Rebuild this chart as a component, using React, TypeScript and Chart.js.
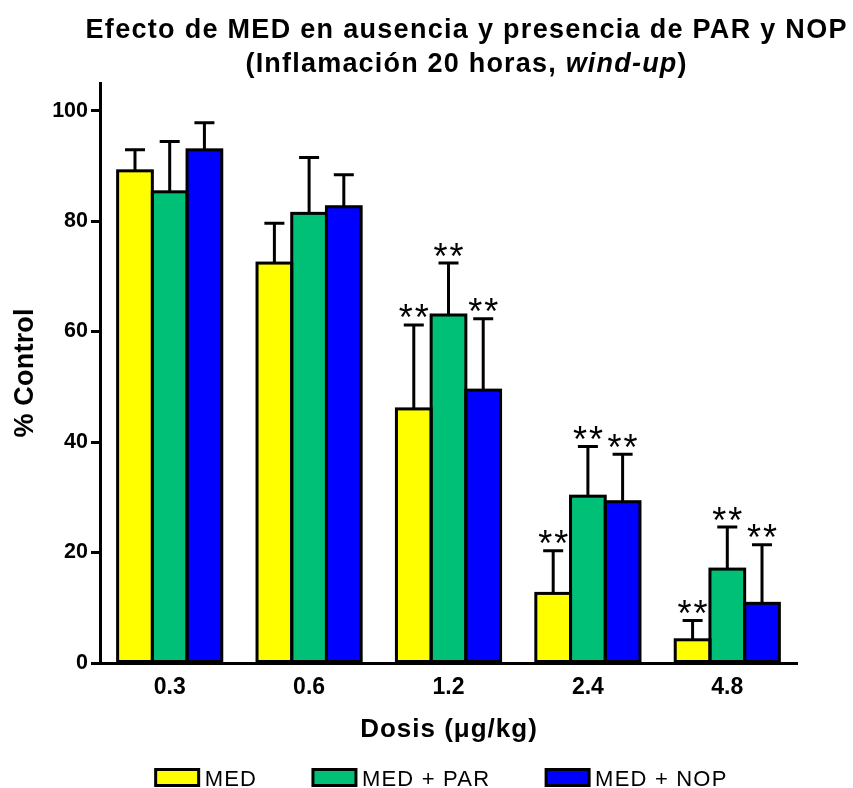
import { useEffect, useRef } from 'react';
import { Chart, registerables } from 'chart.js';

Chart.register(...registerables);

// Dose groups (µg/kg)
const doses = ['0.3', '0.6', '1.2', '2.4', '4.8'];

// Series names
const seriesNames = ['MED', 'MED + PAR', 'MED + NOP'];
const seriesColors = ['#FFFF00', '#00C078', '#0000FF'];

// Mean % of control
const medValues = [89.1, 72.4, 46.0, 12.6, 4.2];
const medParValues = [85.3, 81.4, 63.0, 30.2, 17.0];
const medNopValues = [92.9, 82.6, 49.4, 29.2, 10.8];

// Upper error (SEM)
const medErrors = [3.8, 7.2, 15.2, 7.7, 3.5];
const medParErrors = [9.1, 10.1, 9.4, 9.0, 7.6];
const medNopErrors = [4.9, 5.8, 12.9, 8.6, 10.6];

// Significance marks
const medMarks = ['', '', '**', '**', '**'];
const medParMarks = ['', '', '**', '**', '**'];
const medNopMarks = ['', '', '**', '**', '**'];

// Axis ticks
const yTicks = [0, 20, 40, 60, 80, 100];

const titleLine1 = 'Efecto de MED en ausencia y presencia de PAR y NOP';
const titleLine2 = [
  { text: '(Inflamación 20 horas, ', italic: false },
  { text: 'wind-up', italic: true },
  { text: ')', italic: false },
];
const xTitle = 'Dosis (\u03BCg/kg)';
const yTitle = '% Control';

const FAMILY = '"Liberation Sans", Arial, Helvetica, sans-serif';

const errorSets = [medErrors, medParErrors, medNopErrors];
const markSets = [medMarks, medParMarks, medNopMarks];

function measure(ctx: CanvasRenderingContext2D, text: string, spacing: number) {
  (ctx as any).letterSpacing = spacing + 'px';
  const w = ctx.measureText(text).width - spacing;
  (ctx as any).letterSpacing = '0px';
  return w;
}

function drawSpaced(ctx: CanvasRenderingContext2D, text: string, x: number, y: number, spacing: number) {
  (ctx as any).letterSpacing = spacing + 'px';
  ctx.fillText(text, x, y);
  (ctx as any).letterSpacing = '0px';
}

const decorations = {
  id: 'decorations',
  afterDatasetsDraw(chart: any) {
    const ctx: CanvasRenderingContext2D = chart.ctx;
    const yScale = chart.scales.y;
    ctx.save();
    ctx.strokeStyle = '#000';
    ctx.fillStyle = '#000';
    ctx.lineWidth = 3;
    ctx.lineCap = 'butt';
    chart.data.datasets.forEach((ds: any, di: number) => {
      const meta = chart.getDatasetMeta(di);
      meta.data.forEach((bar: any, i: number) => {
        const { x, y, base, width } = bar.getProps(['x', 'y', 'base', 'width'], true);
        // bar outline
        ctx.strokeRect(x - width / 2, y, width, base - y);
        // upper error bar
        const capY = yScale.getPixelForValue(ds.data[i] + errorSets[di][i]);
        ctx.beginPath();
        ctx.moveTo(x, y);
        ctx.lineTo(x, capY);
        ctx.moveTo(x - 10, capY);
        ctx.lineTo(x + 10, capY);
        ctx.stroke();
        // significance mark
        const mark = markSets[di][i];
        if (mark) {
          ctx.font = `36px ${FAMILY}`;
          ctx.textAlign = 'left';
          ctx.textBaseline = 'alphabetic';
          const w = measure(ctx, mark, 2);
          drawSpaced(ctx, mark, x - w / 2, capY + 5.5, 2);
        }
      });
    });
    ctx.restore();
  },
  afterDraw(chart: any) {
    const ctx: CanvasRenderingContext2D = chart.ctx;
    const area = chart.chartArea;
    ctx.save();
    ctx.fillStyle = '#000';
    ctx.textAlign = 'left';
    ctx.textBaseline = 'alphabetic';

    // Title
    const titleX = 466;
    ctx.font = `bold 27px ${FAMILY}`;
    const w1 = measure(ctx, titleLine1, 1.3);
    drawSpaced(ctx, titleLine1, titleX - w1 / 2, 38, 1.3);

    const parts = titleLine2.map((p) => {
      ctx.font = `${p.italic ? 'italic ' : ''}bold 27px ${FAMILY}`;
      return { ...p, w: measure(ctx, p.text, 1.2) + 1.2 };
    });
    const total = parts.reduce((s, p) => s + p.w, 0) - 1.2;
    let px = titleX - total / 2;
    parts.forEach((p) => {
      ctx.font = `${p.italic ? 'italic ' : ''}bold 27px ${FAMILY}`;
      drawSpaced(ctx, p.text, px, 72, 1.2);
      px += p.w;
    });

    // X axis title
    ctx.font = `bold 26px ${FAMILY}`;
    const wx = measure(ctx, xTitle, 1);
    drawSpaced(ctx, xTitle, (area.left + area.right) / 2 - wx / 2, 737, 1);

    // Y axis title
    ctx.font = `bold 27px ${FAMILY}`;
    const wy = measure(ctx, yTitle, 0.2);
    ctx.save();
    ctx.translate(33, (area.top + area.bottom) / 2);
    ctx.rotate(-Math.PI / 2);
    drawSpaced(ctx, yTitle, -wy / 2, 0, 0.2);
    ctx.restore();

    // Legend
    ctx.font = `22px ${FAMILY}`;
    const boxW = 43;
    const boxH = 16;
    const gapText = 6;
    const gapItem = 57;
    const items = chart.data.datasets.map((ds: any) => ({
      label: ds.label,
      color: ds.backgroundColor,
      w: measure(ctx, ds.label, 1.2),
    }));
    const legendW =
      items.reduce((s: number, it: any) => s + boxW + gapText + it.w, 0) + gapItem * (items.length - 1);
    let lx = 441 - legendW / 2;
    const boxTop = 769.5;
    items.forEach((it: any) => {
      ctx.fillStyle = it.color;
      ctx.fillRect(lx, boxTop, boxW, boxH);
      ctx.lineWidth = 3;
      ctx.strokeStyle = '#000';
      ctx.strokeRect(lx, boxTop, boxW, boxH);
      ctx.fillStyle = '#000';
      drawSpaced(ctx, it.label, lx + boxW + gapText, boxTop + boxH, 1.2);
      lx += boxW + gapText + it.w + gapItem;
    });
    ctx.restore();
  },
};

export default function App() {
  const canvasRef = useRef<HTMLCanvasElement | null>(null);

  useEffect(() => {
    const canvas = canvasRef.current;
    if (!canvas) return;
    const values = [medValues, medParValues, medNopValues];
    const chart = new Chart(canvas, {
      type: 'bar',
      data: {
        labels: doses,
        datasets: seriesNames.map((name, i) => ({
          label: name,
          data: values[i],
          backgroundColor: seriesColors[i],
          borderWidth: 0,
          barPercentage: 1,
          categoryPercentage: 0.747,
        })),
      },
      options: {
        responsive: false,
        animation: false,
        events: [],
        devicePixelRatio: 1,
        layout: { padding: { top: 83, right: 56, bottom: 0, left: 0 } },
        plugins: {
          legend: { display: false },
          title: { display: false },
          tooltip: { enabled: false },
        },
        scales: {
          x: {
            grid: { display: true, drawOnChartArea: false, drawTicks: false },
            border: { display: true, color: '#000', width: 3 },
            ticks: {
              color: '#000',
              padding: 11,
              font: { family: FAMILY, size: 23, weight: 'bold' },
            },
            afterFit: (scale: any) => {
              scale.height = 125;
            },
          },
          y: {
            min: 0,
            max: 105,
            afterBuildTicks: (scale: any) => {
              scale.ticks = yTicks.map((v) => ({ value: v }));
            },
            grid: {
              drawOnChartArea: false,
              drawTicks: true,
              tickLength: 9,
              color: '#000',
              lineWidth: 3,
            },
            border: { display: true, color: '#000', width: 3 },
            ticks: {
              color: '#000',
              padding: 3,
              font: { family: FAMILY, size: 21.5, weight: 'bold' },
            },
            afterFit: (scale: any) => {
              scale.width = 100;
            },
          },
        },
      } as any,
      plugins: [decorations],
    });
    return () => chart.destroy();
  }, []);

  return (
    <div style={{ position: 'absolute', left: 0, top: 0, width: 853, height: 788, background: '#fff' }}>
      <canvas ref={canvasRef} width={853} height={788} style={{ display: 'block' }} />
    </div>
  );
}
